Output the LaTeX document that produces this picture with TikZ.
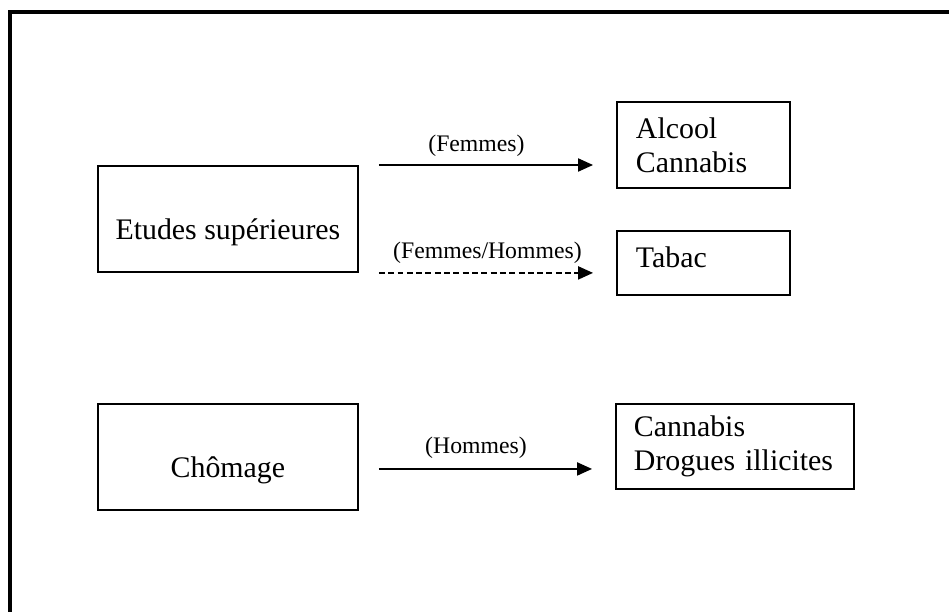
\documentclass[tikz,border=0pt]{standalone}
\usepackage{fontspec}
\setmainfont{Liberation Serif}
\usetikzlibrary{arrows.meta,positioning}

\begin{document}
\begin{tikzpicture}[x=0.02cm,y=-0.02cm,
  cadre/.style={draw,line width=1.1pt,inner sep=0pt,anchor=north west,font=\fontsize{17}{19.5}\selectfont},
  cause/.style={cadre,minimum width=5.2cm,text height=1.48cm,text depth=0.64cm},
  effet/.style={cadre,align=left,inner xsep=0.38cm,text width=2.7cm},
  fleche/.style={-{Triangle[length=8.5pt,width=7.5pt]},line width=0.8pt,shorten <=0.4cm,shorten >=0.46cm},
  pointille/.style={dash pattern=on 3.4pt off 1.9pt},
  etiq/.style={font=\fontsize{13.5}{15}\selectfont,inner sep=0pt}]
  \useasboundingbox (0,0) rectangle (949,612);
  \draw[line width=2pt] (949,12) -- (10,12) -- (10,612);
  \node[cause] (etudes) at (97,165) {Etudes supérieures};
  \node[cause] (chomage) at (97,403) {Chômage};
  \node[effet,minimum height=1.72cm] (alcool) at (616,101) {Alcool\\Cannabis};
  \node[effet,text height=0.74cm,text depth=0.54cm] (tabac) at (616,230) {Tabac};
  \node[effet,text width=4.04cm,inner xsep=0.36cm,minimum height=1.7cm] (drogues) at (615,403) {Cannabis\\Drogues~illicites};
  \coordinate (c3) at ([yshift=-0.24cm]chomage.east);
  \draw[fleche] (etudes.north east) -- (etudes.north east -| alcool.west)
    node[etiq,midway,above=0.16cm,xshift=-0.22cm] {(Femmes)};
  \draw[fleche,pointille] (etudes.south east) -- (etudes.south east -| tabac.west)
    node[etiq,midway,above=0.18cm] {(Femmes/Hommes)};
  \draw[fleche] (c3) -- (c3 -| drogues.west)
    node[etiq,midway,above=0.2cm,xshift=-0.22cm] {(Hommes)};
\end{tikzpicture}
\end{document}
